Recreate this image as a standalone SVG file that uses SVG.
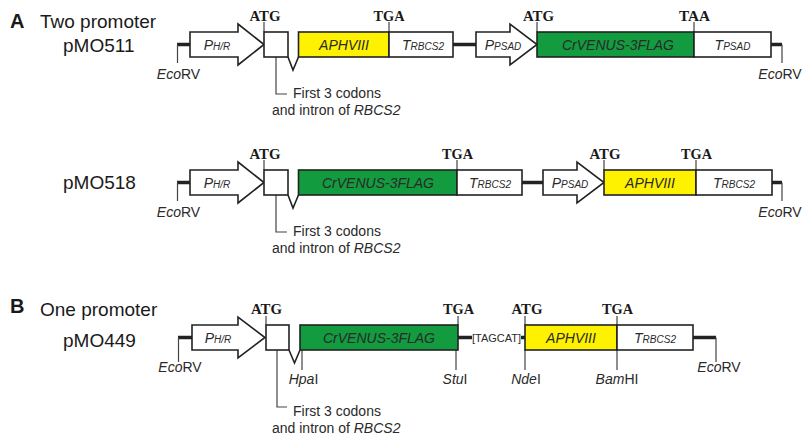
<svg xmlns="http://www.w3.org/2000/svg" width="803" height="436" viewBox="0 0 803 436">
<style>
.bx{stroke:#222;stroke-width:1.6;fill:#fff}
.yel{fill:#fff200}
.grn{fill:#129b3f}
.bb{stroke:#222;stroke-width:3.5;fill:none}
.tk{stroke:#444;stroke-width:1.2;fill:none}
.cod{font-family:"Liberation Serif","Times New Roman",serif;font-weight:bold;font-size:15.5px;fill:#1a1a1a;text-anchor:middle}
.t{font-family:"Liberation Sans",Arial,sans-serif;font-size:14px;fill:#2a2a2a}
.in{font-style:italic;text-anchor:middle}
.mid{text-anchor:middle}
.sub{font-size:10px}
.ti{font-family:"Liberation Sans",Arial,sans-serif;font-size:19px;fill:#1a1a1a}
.bold{font-weight:bold;font-size:20px}
.it{font-style:italic}
</style>

<!-- Titles -->
<g id="titleA">
<text class="ti bold" x="10" y="28">A</text>
<text class="ti" x="40" y="28">Two promoter</text>
<text class="ti" x="63" y="52">pMO511</text>
</g>
<g id="titleA2">
<text class="ti" x="63" y="189">pMO518</text>
</g>
<g id="titleB">
<text class="ti bold" x="10" y="313">B</text>
<text class="ti" x="40" y="316">One promoter</text>
<text class="ti" x="63" y="347">pMO449</text>
</g>

<!-- Connectors: backbone lines and annotation ticks -->
<g id="connectors">
<!-- row 1 -->
<path class="bb" d="M177 44.5H190M453 44.5H476M771 44.5H782"/>
<path class="tk" d="M177.5 44.5V63M782 44.5V63"/>
<path class="tk" d="M264 22V32M389 22V32M537 22V32M694 22V32"/>
<path class="tk" d="M276 43V94H287"/>
<!-- row 2 -->
<path class="bb" d="M177 182.5H190M522 182.5H543M772 182.5H782"/>
<path class="tk" d="M177.5 182.5V201M782 182.5V201"/>
<path class="tk" d="M264 160V170M457 160V170M604 160V170M696 160V170"/>
<path class="tk" d="M276 181V232H287"/>
<!-- row 3 -->
<path class="bb" d="M178 337.5H192M458 337.5H472M521 337.5H525M693 337.5H716"/>
<path class="tk" d="M178.5 337.5V362M716 337.5V362"/>
<path class="tk" d="M266 316V325M458 316V325M525 316V325M617 316V325"/>
<path class="tk" d="M302 350V370M456 350V370M525 350V370M617 350V370"/>
<path class="tk" d="M277 332V407H287"/>
</g>

<!-- ===== Row 1: pMO511 ===== -->
<g id="r1-PHR">
<polygon class="bx" points="190,32 238,32 238,24 264,44.5 238,65 238,57 190,57"/>
<text class="t in" x="217" y="49.5">P<tspan class="sub">H/R</tspan></text>
</g>
<g id="r1-exon">
<rect class="bx" x="264" y="32" width="24" height="25"/>
<polyline class="bx" style="fill:none" points="288,57 293,70 298.5,57"/>
</g>
<g id="r1-APHVIII">
<rect class="bx yel" x="298.5" y="32" width="90.5" height="25"/>
<text class="t in" x="344" y="50">APHVIII</text>
</g>
<g id="r1-TRBCS2">
<rect class="bx" x="389" y="32" width="64" height="25"/>
<text class="t in" x="423" y="50">T<tspan class="sub">RBCS2</tspan></text>
</g>
<g id="r1-PPSAD">
<polygon class="bx" points="476,32 510,32 510,24 537,44.5 510,65 510,57 476,57"/>
<text class="t in" x="503" y="50">P<tspan class="sub">PSAD</tspan></text>
</g>
<g id="r1-CrVENUS">
<rect class="bx grn" x="537" y="32" width="157" height="25"/>
<text class="t in" x="618" y="50">CrVENUS-3FLAG</text>
</g>
<g id="r1-TPSAD">
<rect class="bx" x="694" y="32" width="77" height="25"/>
<text class="t in" x="732.5" y="50">T<tspan class="sub">PSAD</tspan></text>
</g>
<g id="r1-labels">
<text class="cod" x="265" y="21" textLength="31" lengthAdjust="spacingAndGlyphs">ATG</text>
<text class="cod" x="389" y="21" textLength="31" lengthAdjust="spacingAndGlyphs">TGA</text>
<text class="cod" x="538.5" y="21" textLength="31" lengthAdjust="spacingAndGlyphs">ATG</text>
<text class="cod" x="694.5" y="21" textLength="31" lengthAdjust="spacingAndGlyphs">TAA</text>
<text class="t mid" x="178.5" y="79"><tspan class="it">Eco</tspan>RV</text>
<text class="t mid" x="780" y="79"><tspan class="it">Eco</tspan>RV</text>
<text class="t" x="293" y="98">First 3 codons</text>
<text class="t" x="272" y="114.5">and intron of <tspan class="it">RBCS2</tspan></text>
</g>

<!-- ===== Row 2: pMO518 ===== -->
<g id="r2-PHR">
<polygon class="bx" points="190,170 238,170 238,162 264,182.5 238,203 238,195 190,195"/>
<text class="t in" x="217" y="187.5">P<tspan class="sub">H/R</tspan></text>
</g>
<g id="r2-exon">
<rect class="bx" x="264" y="170" width="24" height="25"/>
<polyline class="bx" style="fill:none" points="288,195 293,208 298.5,195"/>
</g>
<g id="r2-CrVENUS">
<rect class="bx grn" x="298.5" y="170" width="158.5" height="25"/>
<text class="t in" x="378" y="188">CrVENUS-3FLAG</text>
</g>
<g id="r2-TRBCS2a">
<rect class="bx" x="457" y="170" width="65" height="25"/>
<text class="t in" x="490" y="188">T<tspan class="sub">RBCS2</tspan></text>
</g>
<g id="r2-PPSAD">
<polygon class="bx" points="543,170 577,170 577,162 604,182.5 577,203 577,195 543,195"/>
<text class="t in" x="570" y="188">P<tspan class="sub">PSAD</tspan></text>
</g>
<g id="r2-APHVIII">
<rect class="bx yel" x="604" y="170" width="92" height="25"/>
<text class="t in" x="650" y="188">APHVIII</text>
</g>
<g id="r2-TRBCS2b">
<rect class="bx" x="696" y="170" width="76" height="25"/>
<text class="t in" x="734" y="188">T<tspan class="sub">RBCS2</tspan></text>
</g>
<g id="r2-labels">
<text class="cod" x="265" y="159" textLength="31" lengthAdjust="spacingAndGlyphs">ATG</text>
<text class="cod" x="457.5" y="159" textLength="31" lengthAdjust="spacingAndGlyphs">TGA</text>
<text class="cod" x="605" y="159" textLength="31" lengthAdjust="spacingAndGlyphs">ATG</text>
<text class="cod" x="696.5" y="159" textLength="31" lengthAdjust="spacingAndGlyphs">TGA</text>
<text class="t mid" x="178.5" y="217"><tspan class="it">Eco</tspan>RV</text>
<text class="t mid" x="780" y="217"><tspan class="it">Eco</tspan>RV</text>
<text class="t" x="293" y="236">First 3 codons</text>
<text class="t" x="272" y="252.5">and intron of <tspan class="it">RBCS2</tspan></text>
</g>

<!-- ===== Row 3: pMO449 ===== -->
<g id="r3-PHR">
<polygon class="bx" points="192,325 238,325 238,317 265,337.5 238,358 238,350 192,350"/>
<text class="t in" x="218" y="342.5">P<tspan class="sub">H/R</tspan></text>
</g>
<g id="r3-exon">
<rect class="bx" x="266" y="325" width="23" height="25"/>
<polyline class="bx" style="fill:none" points="289,350 294.5,363 300,350"/>
</g>
<g id="r3-CrVENUS">
<rect class="bx grn" x="300" y="325" width="158" height="25"/>
<text class="t in" x="379" y="343">CrVENUS-3FLAG</text>
</g>
<g id="r3-TAGCAT">
<text class="t mid" x="496.5" y="341.5" style="font-size:11px" textLength="49" lengthAdjust="spacingAndGlyphs">[TAGCAT]</text>
</g>
<g id="r3-APHVIII">
<rect class="bx yel" x="525" y="325" width="92" height="25"/>
<text class="t in" x="571" y="343">APHVIII</text>
</g>
<g id="r3-TRBCS2">
<rect class="bx" x="617" y="325" width="76" height="25"/>
<text class="t in" x="655" y="343">T<tspan class="sub">RBCS2</tspan></text>
</g>
<g id="r3-labels">
<text class="cod" x="266.5" y="314" textLength="31" lengthAdjust="spacingAndGlyphs">ATG</text>
<text class="cod" x="458.5" y="314" textLength="31" lengthAdjust="spacingAndGlyphs">TGA</text>
<text class="cod" x="527" y="314" textLength="31" lengthAdjust="spacingAndGlyphs">ATG</text>
<text class="cod" x="617.5" y="314" textLength="31" lengthAdjust="spacingAndGlyphs">TGA</text>
<text class="t mid" x="180" y="372"><tspan class="it">Eco</tspan>RV</text>
<text class="t mid" x="719" y="372"><tspan class="it">Eco</tspan>RV</text>
<text class="t mid" x="303.5" y="384"><tspan class="it">Hpa</tspan>I</text>
<text class="t mid" x="455" y="384"><tspan class="it">Stu</tspan>I</text>
<text class="t mid" x="526" y="384"><tspan class="it">Nde</tspan>I</text>
<text class="t mid" x="617" y="384"><tspan class="it">Bam</tspan>HI</text>
<text class="t" x="293" y="416">First 3 codons</text>
<text class="t" x="272" y="432.5">and intron of <tspan class="it">RBCS2</tspan></text>
</g>
</svg>
